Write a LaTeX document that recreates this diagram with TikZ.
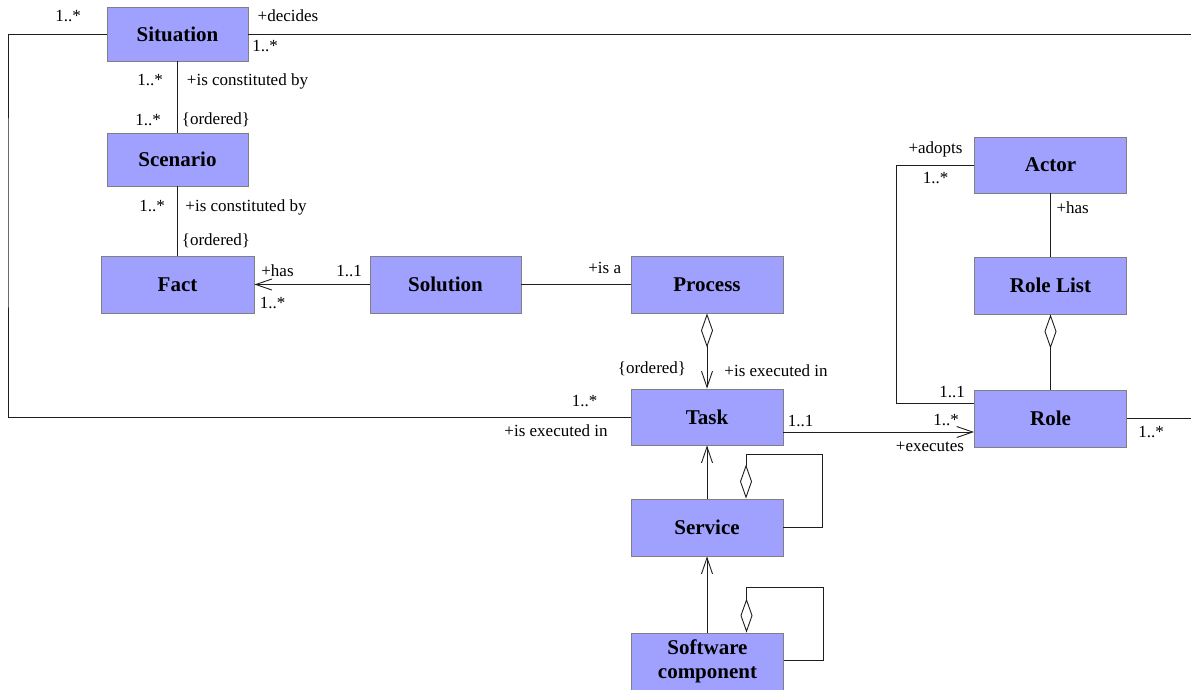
\documentclass[tikz,border=0pt]{standalone}
\usepackage{fontspec}
\setmainfont{Liberation Serif}
\usetikzlibrary{arrows.meta,calc}
\definecolor{boxfill}{RGB}{160,160,255}
\definecolor{boxline}{RGB}{128,128,128}
\definecolor{linecol}{RGB}{30,30,30}
\begin{document}
\begin{tikzpicture}[x=1pt,y=-1pt,
 umlbox/.style={draw=boxline, fill=boxfill, line width=0.9pt, minimum width=152pt, minimum height=56pt, inner sep=0pt, align=center, font=\bfseries\fontsize{21}{24}\selectfont},
 lbl/.style={anchor=base, inner sep=0pt, font=\fontsize{17}{20}\selectfont},
 conn/.style={draw=linecol, line width=0.9pt},
 barb/.style={-{Straight Barb[length=16pt,width=11pt]}},
 aggr/.style={{Diamond[open,length=34pt,width=12pt]}-},
]
\useasboundingbox (0,0) rectangle (1191,689);
% boxes
\node[umlbox, minimum width=141pt, minimum height=54pt] (situation) at (177.5,34) {Situation};
\node[umlbox, minimum width=141pt, minimum height=53pt] (scenario) at (177.5,159.5) {Scenario};
\node[umlbox, minimum width=153pt, minimum height=57pt] (fact) at (177.5,284.5) {Fact};
\node[umlbox, minimum width=151pt, minimum height=57pt] (solution) at (445.5,284.5) {Solution};
\node[umlbox, minimum height=57pt] (process) at (707,284.5) {Process};
\node[umlbox] (task) at (707,417) {Task};
\node[umlbox, minimum height=57pt] (service) at (707,527.5) {Service};
\node[umlbox, minimum height=57pt] (swc) at (707.5,661.5) {Software\\component};
\node[umlbox] (actor) at (1050.5,165) {Actor};
\node[umlbox, minimum height=57pt] (rolelist) at (1050.5,285.5) {Role List};
\node[umlbox, minimum height=57pt] (role) at (1050.5,418.5) {Role};
% connectors
\coordinate (cL) at (8,200);
\draw[conn] (situation.west) -| (cL) |- (task.west);
\coordinate (cRt) at (1191,34);
\draw[conn] (situation.east) -- (cRt);
\coordinate (cRr) at (1191,418.5);
\draw[conn] (role.east) -- (cRr);
\draw[conn] (situation.south) -- (scenario.north);
\draw[conn] (scenario.south) -- (fact.north);
\draw[conn,barb] (solution.west) -- (fact.east);
\draw[conn] (solution.east) -- (process.west);
\draw[conn,{Diamond[open,length=34pt,width=12pt]}-{Straight Barb[length=16pt,width=11pt]}] (process.south) -- (task.north);
\draw[conn,barb] ($(task.east)+(0,15)$) -- ($(role.west)+(0,13.5)$);
\coordinate (cA) at (896,300);
\draw[conn] (actor.west) -| (cA) |- ($(role.west)+(0,-15.5)$);
\draw[conn] (actor.south) -- (rolelist.north);
\draw[conn,aggr] (rolelist.south) -- (role.north);
\draw[conn,barb] (service.north) -- (task.south);
\coordinate (svcLoop) at (822,527.5);
\draw[conn,aggr] ($(service.north)+(39,0)$) -- ++(0,-44) -| (svcLoop) -- (service.east);
\draw[conn,barb] (swc.north -| service.south) -- (service.south);
\coordinate (swcLoop) at (823,660);
\draw[conn,aggr] ($(swc.north)+(39,0)$) -- ++(0,-45) -| (swcLoop) -- (swc.east |- swcLoop);
% labels
\node[lbl] (l1) at (68,21.7) {1..*};
\node[lbl] (l2) at (288,21.7) {+decides};
\node[lbl] (l3) at (265,51.7) {1..*};
\node[lbl] (l4) at (150,85) {1..*};
\node[lbl] (l5) at (247.5,85) {+is constituted by};
\node[lbl] (l6) at (148,125) {1..*};
\node[lbl] (l7) at (216,124) {\{ordered\}};
\node[lbl] (l8) at (152,211) {1..*};
\node[lbl] (l9) at (246,211) {+is constituted by};
\node[lbl] (l10) at (216,245) {\{ordered\}};
\node[lbl] (l11) at (277.5,276.7) {+has};
\node[lbl] (l12) at (349,276.7) {1..1};
\node[lbl] (l13) at (272.5,308) {1..*};
\node[lbl] (l14) at (604.7,273) {+is a};
\node[lbl] (l15) at (652,373) {\{ordered\}};
\node[lbl] (l16) at (776,376.7) {+is executed in};
\node[lbl] (l17) at (584.5,406.7) {1..*};
\node[lbl] (l18) at (556,436) {+is executed in};
\node[lbl] (l19) at (800.5,426.7) {1..1};
\node[lbl] (l20) at (952,397) {1..1};
\node[lbl] (l21) at (946,425) {1..*};
\node[lbl] (l22) at (930,451.7) {+executes};
\node[lbl] (l23) at (1151,437) {1..*};
\node[lbl] (l24) at (935.5,153) {+adopts};
\node[lbl] (l25) at (935.5,183) {1..*};
\node[lbl] (l26) at (1072.7,213) {+has};
\end{tikzpicture}
\end{document}
